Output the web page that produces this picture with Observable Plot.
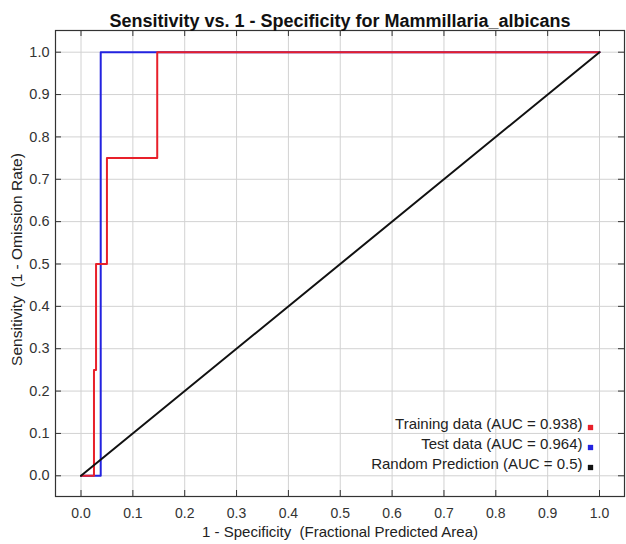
<!DOCTYPE html>
<html>
<head>
<meta charset="utf-8">
<script src="https://cdn.jsdelivr.net/npm/d3@7"></script>
<script src="https://cdn.jsdelivr.net/npm/@observablehq/plot@0.6"></script>
<style>
  html, body { margin: 0; padding: 0; background: #fff; }
  svg { display: block; }
</style>
</head>
<body>
<div id="chart"></div>
<script>
const titleText = "Sensitivity vs. 1 - Specificity for Mammillaria_albicans";
const xLabel = "1 - Specificity  (Fractional Predicted Area)";
const yLabel = "Sensitivity  (1 - Omission Rate)";
const tickValues = [0, 0.1, 0.2, 0.3, 0.4, 0.5, 0.6, 0.7, 0.8, 0.9, 1.0];

const trainX = [0, 0.025, 0.025, 0.029, 0.029, 0.050, 0.050, 0.147, 0.147, 1.0];
const trainY = [0, 0,     0.25,  0.25,  0.50,  0.50,  0.75,  0.75,  1.0,   1.0];
const testX = [0, 0.038, 0.038, 1.0];
const testY = [0, 0,     1.0,   1.0];
const randX = [0, 1.0];
const randY = [0, 1.0];

const legendLabels = ["Training data (AUC = 0.938)", "Test data (AUC = 0.964)", "Random Prediction (AUC = 0.5)"];
const legendColors = ["#e8202a", "#2323e0", "#111111"];

const toPts = (xs, ys) => xs.map((x, i) => ({x, y: ys[i]}));
const train = toPts(trainX, trainY);
const test = toPts(testX, testY);
const rand = toPts(randX, randY);

const W = 626, H = 544;
const mL = 55, mR = 2, mT = 30, mB = 48;
const fw = W - mL - mR, fh = H - mT - mB;
const font = "Liberation Sans, Arial, sans-serif";

const legendMarks = legendLabels.flatMap((lab, i) => [
  Plot.text([lab], {text: d => d, frameAnchor: "bottom-right", textAnchor: "end",
    dx: -42, dy: -68 + i * 20, fontSize: 15, fill: "#222"}),
  Plot.dot([lab], {frameAnchor: "bottom-right", dx: -34, dy: -69 + i * 20,
    symbol: "square", r: 3, fill: legendColors[i], stroke: "none"})
]);

const plot = Plot.plot({
  width: W, height: H,
  marginLeft: mL, marginRight: mR, marginTop: mT, marginBottom: mB,
  style: {fontFamily: font, background: "#fff"},
  x: {domain: [-0.0492, 1.0482]},
  y: {domain: [-0.0489, 1.0512]},
  marks: [
    Plot.gridX(tickValues, {stroke: "#d2d2d2", strokeOpacity: 1}),
    Plot.gridY(tickValues, {stroke: "#d2d2d2", strokeOpacity: 1}),
    Plot.tickX(tickValues, {x: d => d, stroke: "#333", insetBottom: fh - 6}),
    Plot.tickX(tickValues, {x: d => d, stroke: "#333", insetTop: fh - 6}),
    Plot.tickY(tickValues, {y: d => d, stroke: "#333", insetRight: fw - 6}),
    Plot.tickY(tickValues, {y: d => d, stroke: "#333", insetLeft: fw - 6}),
    Plot.axisX(tickValues, {anchor: "bottom", tickSize: 0, tickPadding: 12, fontSize: 14, fill: "#333",
      tickFormat: d => d.toFixed(1), label: null}),
    Plot.axisY(tickValues, {anchor: "left", tickSize: 0, tickPadding: 6, fontSize: 14.5, fill: "#333",
      tickFormat: d => d.toFixed(1), label: null}),
    Plot.frame({stroke: "#333", strokeWidth: 1.2}),
    Plot.line(test, {x: "x", y: "y", stroke: legendColors[1], strokeWidth: 2}),
    Plot.line(train, {x: "x", y: "y", stroke: legendColors[0], strokeWidth: 2}),
    Plot.line(rand, {x: "x", y: "y", stroke: legendColors[2], strokeWidth: 2}),
    ...legendMarks,
    Plot.text([titleText], {text: d => d, frameAnchor: "top", dy: -16, fontSize: 18, fontWeight: "bold", fill: "#111"}),
    Plot.text([xLabel], {text: d => d, frameAnchor: "bottom", dy: 40, fontSize: 15, fill: "#222"}),
    Plot.text([yLabel], {text: d => d, frameAnchor: "left", textAnchor: "middle", dx: -38, dy: -4, rotate: -90, fontSize: 15.5, fill: "#222"})
  ]
});
document.getElementById("chart").appendChild(plot);
</script>
</body>
</html>
